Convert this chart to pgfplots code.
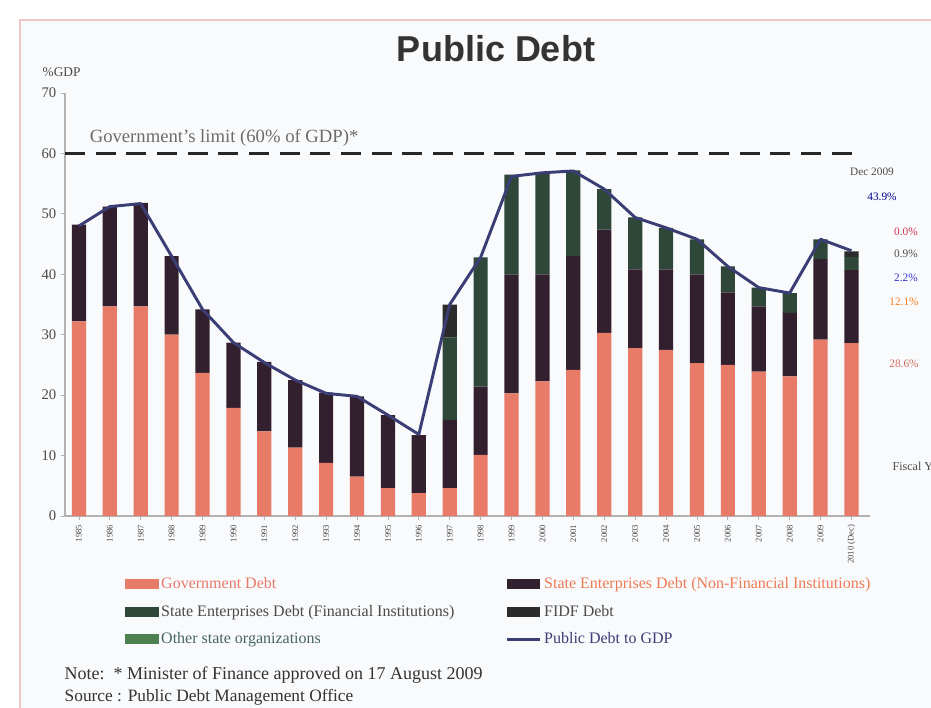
\documentclass[border=0pt]{standalone}
\usepackage{fontspec}
\setmainfont{Liberation Serif}
\newfontfamily\titlefont{Liberation Sans}
\usepackage{pgfplots}
\pgfplotsset{compat=1.18}
\usepackage{pgfplotstable}

\definecolor{govc}{HTML}{E87A68}
\definecolor{senf}{HTML}{33202E}
\definecolor{sefi}{HTML}{2F4739}
\definecolor{fidf}{HTML}{2B2B2B}
\definecolor{othc}{HTML}{4E8050}
\definecolor{linec}{HTML}{3B3D75}
\definecolor{txtc}{HTML}{4A4A4A}
\definecolor{framec}{HTML}{EFC6C6}
\definecolor{bgc}{HTML}{F9FAFC}

% % of GDP, fiscal years 1985-2009 and Dec 2009
\pgfplotstableread{
x  gov  senf sefi fidf oth line
0  32.2 16.0 0    0    0   48.0
1  34.7 16.5 0    0    0   51.2
2  34.7 17.1 0    0    0   51.7
3  30.0 13.0 0    0    0   43.0
4  23.7 10.5 0    0    0   34.2
5  17.9 10.8 0    0    0   28.7
6  14.0 11.5 0    0    0   25.4
7  11.3 11.2 0    0    0   22.5
8  8.8  11.6 0    0    0   20.3
9  6.5  13.3 0    0    0   19.8
10 4.6  12.1 0    0    0   16.7
11 3.8  9.6  0    0    0   13.5
12 4.6  11.3 13.6 5.5  0   35.0
13 10.1 11.3 21.4 0    0   42.8
14 20.3 19.7 16.5 0    0   56.2
15 22.3 17.7 16.8 0    0   56.8
16 24.2 18.8 14.2 0    0   57.1
17 30.3 17.1 6.7  0    0   54.1
18 27.8 13.0 8.6  0    0   49.4
19 27.5 13.3 6.9  0    0   47.7
20 25.3 14.7 5.8  0    0   45.8
21 25.0 12.0 4.3  0    0   41.3
22 23.9 10.8 3.1  0    0   37.8
23 23.1 10.5 3.3  0    0   36.9
24 29.2 13.3 3.3  0    0   45.8
25 28.6 12.1 2.2  0.9  0.0 43.9
}\debt

\pgfplotsset{
  frameaxis/.style={
    at={(48.75pt,-387pt)}, anchor=south west,
    scale only axis, width=603.75pt, height=317.25pt,
    xmin=-0.45, xmax=25.6, ymin=0, ymax=70, clip=false,
  },
  barleg/.style={legend image code/.code={\fill[##1, draw=none] (0pt,-3.8pt) rectangle (25pt,3.8pt);}},
  lineleg/.style={legend image code/.code={\draw[##1] (0pt,0pt) -- (25pt,0pt);}},
}

\begin{document}
\begin{tikzpicture}
\begin{scope}[x=0.75pt,y=-0.75pt]
  \fill[white] (0,0) rectangle (931,707);
  \filldraw[draw=framec, fill=bgc, line width=1.2pt] (20,20) rectangle (990,760);
\end{scope}

\begin{axis}[
  frameaxis,
  ybar stacked, bar width=0.46,
  axis lines*=left,
  axis line style={draw=gray!60, line width=0.8pt},
  tick style={draw=gray!60, line width=0.6pt},
  tick align=outside, major tick length=3pt,
  ytick={0,10,...,70},
  xtick={0,...,25},
  xticklabels={1985,1986,1987,1988,1989,1990,1991,1992,1993,1994,1995,1996,1997,1998,1999,2000,2001,2002,2003,2004,2005,2006,2007,2008,2009,2010 (Dec)},
  x tick label style={rotate=90, anchor=east, font=\fontsize{6.5}{7}\selectfont, text=txtc},
  y tick label style={font=\fontsize{11}{12}\selectfont, text=txtc},
  /pgf/number format/assume math mode=true,
]
\addplot[fill=govc, draw=none] table[x=x, y=gov] {\debt};
\addplot[fill=senf, draw=none] table[x=x, y=senf] {\debt};
\addplot[fill=sefi, draw=none] table[x=x, y=sefi] {\debt};
\addplot[fill=fidf, draw=none] table[x=x, y=fidf] {\debt};
\addplot[fill=othc, draw=none] table[x=x, y=oth] {\debt};
\end{axis}

\begin{axis}[
  frameaxis,
  axis lines=none,
  legend columns=2,
  legend cell align=left,
  legend style={at={(0.0745,-0.138)}, anchor=north west, draw=none, fill=none,
    font=\fontsize{12}{13}\selectfont, inner sep=0pt,
    /tikz/every even column/.append style={column sep=0pt},
    row sep=7pt},
]
\addlegendimage{barleg, fill=govc}
\addlegendimage{barleg, fill=senf}
\addlegendimage{barleg, fill=sefi}
\addlegendimage{barleg, fill=fidf}
\addlegendimage{barleg, fill=othc}
\addplot[black!85, line width=1.6pt, dash pattern=on 15pt off 8pt, forget plot]
  coordinates {(-0.45,60) (25.1,60)};
\addplot[linec, line width=2.2pt, line join=round, lineleg]
  table[x=x, y=line] {\debt};
\legend{
  \makebox[256pt][l]{\textcolor{govc}{Government Debt}},
  \textcolor{govc!80!orange}{State Enterprises Debt (Non-Financial Institutions)},
  \makebox[256pt][l]{\textcolor{txtc}{State Enterprises Debt (Financial Institutions)}},
  \textcolor{txtc}{FIDF Debt},
  \makebox[256pt][l]{\textcolor{othc!60!linec}{Other state organizations}},
  \textcolor{linec}{Public Debt to GDP}}
\node[anchor=west, text=gray!85!black, font=\fontsize{14}{15}\selectfont]
  at (axis cs:0.2,62.6) {Government's limit (60\% of GDP)*};
\end{axis}

\begin{scope}[x=0.75pt,y=-0.75pt]
  \node[text=black!80, font=\titlefont\bfseries\fontsize{27}{30}\selectfont] at (496,49) {Public Debt};
  \node[anchor=west, text=txtc, font=\fontsize{10}{11}\selectfont] at (38,72) {\%GDP};
  \node[text=txtc, font=\fontsize{8.5}{9}\selectfont] at (872,172) {Dec 2009};
  \node[text=blue!55!black, font=\fontsize{8.5}{9}\selectfont] at (882,197) {43.9\%};
  \node[text=purple!60!govc, font=\fontsize{8.5}{9}\selectfont] at (906,232) {0.0\%};
  \node[text=txtc, font=\fontsize{8.5}{9}\selectfont] at (906,254) {0.9\%};
  \node[text=blue!60!gray, font=\fontsize{8.5}{9}\selectfont] at (906,278) {2.2\%};
  \node[text=orange!70!govc, font=\fontsize{8.5}{9}\selectfont] at (904,302) {12.1\%};
  \node[text=govc!90!black, font=\fontsize{8.5}{9}\selectfont] at (904,364) {28.6\%};
  \node[anchor=west, text=txtc, font=\fontsize{9}{10}\selectfont] at (888,466) {Fiscal Year};
  \node[anchor=west, text=black!80, font=\fontsize{13.5}{14}\selectfont] at (60,675) {Note:\ \ * Minister of Finance approved on 17 August 2009};
  \node[anchor=west, text=black!80, font=\fontsize{13}{14}\selectfont] at (60,697) {Source : Public Debt Management Office};
  \pgfresetboundingbox
  \path[use as bounding box] (0,0) rectangle (931,707);
\end{scope}
\end{tikzpicture}
\end{document}
